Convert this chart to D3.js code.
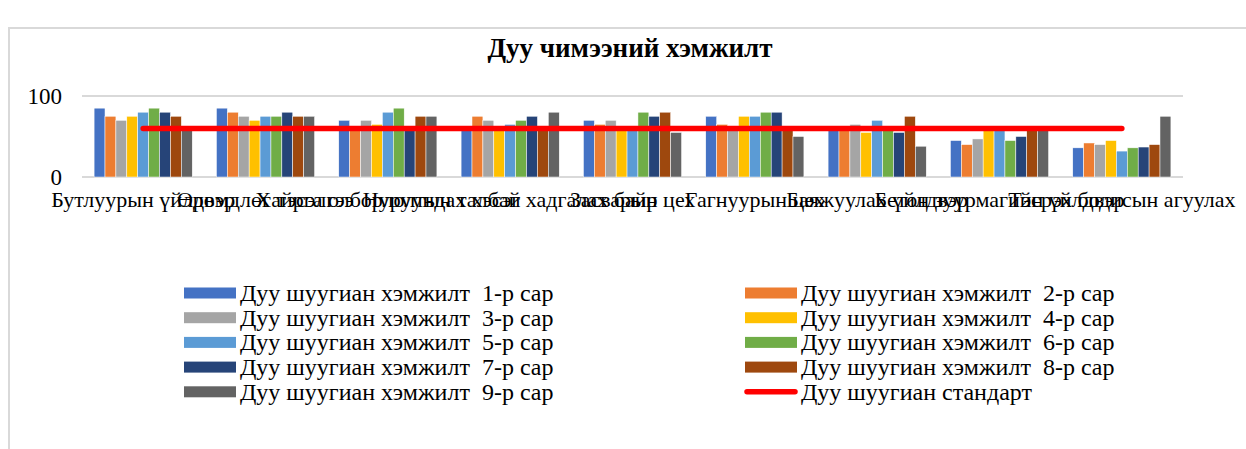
<!DOCTYPE html>
<html>
<head>
<meta charset="utf-8">
<script src="https://cdn.jsdelivr.net/npm/d3@7/dist/d3.min.js"></script>
<style>
  html, body { margin: 0; padding: 0; background: #fff; }
  svg { display: block; }
</style>
</head>
<body>
<svg id="chart" width="1246" height="449"></svg>
<script>
// Measurement sites
const categories = [
  "Бутлуурын үйлдвэр",
  "Өрөмдлөг тэсэлгээ",
  "Хайрга олборлолтын талбай",
  "Нуруундах хэсэг хадгалах байр",
  "Засварын цех",
  "Гагнуурын цех",
  "Баяжуулах үйлдвэр",
  "Бетон зуурмагийн үйлдвэр",
  "Тэсрэх бодисын агуулах"
];

// Monthly noise readings, one array per month
const month1 = [85, 85, 70, 60, 70, 75, 60, 45, 36];
const month2 = [75, 80, 60, 75, 65, 65, 60, 40, 42];
const month3 = [70, 75, 70, 70, 70, 60, 65, 47, 40];
const month4 = [75, 70, 65, 60, 60, 75, 55, 60, 45];
const month5 = [80, 75, 80, 65, 60, 75, 70, 60, 32];
const month6 = [85, 75, 85, 70, 80, 80, 60, 45, 36];
const month7 = [80, 80, 60, 75, 75, 80, 55, 50, 37];
const month8 = [75, 75, 75, 60, 80, 60, 75, 60, 40];
const month9 = [60, 75, 75, 80, 55, 50, 38, 60, 75];

// Permitted noise level
const standard = [60, 60, 60, 60, 60, 60, 60, 60, 60];

const seriesNames = [
  "Дуу шуугиан хэмжилт\u00A0 1-р сар",
  "Дуу шуугиан хэмжилт\u00A0 2-р сар",
  "Дуу шуугиан хэмжилт\u00A0 3-р сар",
  "Дуу шуугиан хэмжилт\u00A0 4-р сар",
  "Дуу шуугиан хэмжилт\u00A0 5-р сар",
  "Дуу шуугиан хэмжилт\u00A0 6-р сар",
  "Дуу шуугиан хэмжилт\u00A0 7-р сар",
  "Дуу шуугиан хэмжилт\u00A0 8-р сар",
  "Дуу шуугиан хэмжилт\u00A0 9-р сар"
];
const standardName = "Дуу шуугиан стандарт";
const yTicks = [0, 100];
const titleText = "Дуу чимээний хэмжилт";

const seriesValues = [month1, month2, month3, month4, month5, month6, month7, month8, month9];
const colors = ["#4472C4", "#ED7D31", "#A5A5A5", "#FFC000", "#5B9BD5",
                "#70AD47", "#264478", "#9E480E", "#636363"];
const lineColor = "#FF0000";
const serif = "\"Liberation Serif\", \"Times New Roman\", serif";

const svg = d3.select("#chart");

// chart frame
svg.append("rect")
  .attr("x", 9).attr("y", 28)
  .attr("width", 1260).attr("height", 440)
  .attr("fill", "#fff")
  .attr("stroke", "#d9d9d9").attr("stroke-width", 2);

// title
svg.append("text")
  .attr("x", 630).attr("y", 57)
  .attr("text-anchor", "middle")
  .style("font-family", serif)
  .style("font-size", "27px").style("font-weight", "bold")
  .attr("fill", "#000")
  .text(titleText);

const plot = { left: 82, right: 1183, top: 96, bottom: 177 };

const x0 = d3.scaleBand()
  .domain(categories)
  .range([plot.left, plot.right])
  .padding(0);

const x1 = d3.scaleBand()
  .domain(d3.range(seriesValues.length))
  .range([0, x0.bandwidth()])
  .paddingInner(0)
  .paddingOuter(1.11);

const y = d3.scaleLinear()
  .domain([0, 100])
  .range([plot.bottom, plot.top]);

// gridlines
svg.append("g")
  .selectAll("line")
  .data(yTicks)
  .join("line")
  .attr("x1", plot.left).attr("x2", plot.right)
  .attr("y1", d => y(d)).attr("y2", d => y(d))
  .attr("stroke", "#d9d9d9").attr("stroke-width", 2);

// y axis labels
const yAxis = d3.axisLeft(y).tickValues(yTicks).tickSize(0).tickPadding(0);
const yg = svg.append("g")
  .attr("transform", `translate(${plot.left - 20},0)`)
  .call(yAxis);
yg.select(".domain").remove();
yg.selectAll("text")
  .style("font-family", serif)
  .style("font-size", "23px")
  .attr("fill", "#000");

// bars
const groups = svg.append("g")
  .selectAll("g")
  .data(seriesValues)
  .join("g")
  .attr("fill", (d, i) => colors[i]);

groups.each(function (vals, si) {
  d3.select(this).selectAll("rect")
    .data(vals)
    .join("rect")
    .attr("x", (v, ci) => x0(categories[ci]) + x1(si))
    .attr("width", x1.bandwidth())
    .attr("y", v => y(v))
    .attr("height", v => y(0) - y(v))
    .attr("stroke", "#fff")
    .attr("stroke-width", 0.5);
});

// standard line
const line = d3.line()
  .x((v, i) => x0(categories[i]) + x0.bandwidth() / 2)
  .y(v => y(v));

svg.append("path")
  .datum(standard)
  .attr("d", line)
  .attr("fill", "none")
  .attr("stroke", lineColor)
  .attr("stroke-width", 5.5)
  .attr("stroke-linecap", "round");

// category labels
const xAxis = d3.axisBottom(x0).tickSize(0).tickPadding(0);
const xg = svg.append("g")
  .attr("transform", `translate(0,${plot.bottom})`)
  .call(xAxis);
xg.select(".domain").remove();
xg.selectAll("text")
  .attr("dy", null)
  .attr("y", 30)
  .style("font-family", serif)
  .style("font-size", "22px")
  .attr("fill", "#000");

// legend
const legendItems = seriesNames.map((name, i) => ({ name, color: colors[i], type: "bar" }));
legendItems.push({ name: standardName, color: lineColor, type: "line" });

const colX = [184, 745];
const rowY0 = 293, rowStep = 24.7;

const legend = svg.append("g")
  .selectAll("g")
  .data(legendItems)
  .join("g")
  .attr("transform", (d, i) =>
    `translate(${colX[i % 2]},${rowY0 + Math.floor(i / 2) * rowStep})`);

legend.filter(d => d.type === "bar")
  .append("rect")
  .attr("x", 0).attr("y", -5.5)
  .attr("width", 52).attr("height", 11)
  .attr("fill", d => d.color);

legend.filter(d => d.type === "line")
  .append("line")
  .attr("x1", 2).attr("x2", 50)
  .attr("y1", 0).attr("y2", 0)
  .attr("stroke", d => d.color)
  .attr("stroke-width", 5.5)
  .attr("stroke-linecap", "round");

legend.append("text")
  .attr("x", 56).attr("y", 8)
  .style("font-family", serif)
  .style("font-size", "24px")
  .attr("fill", "#000")
  .text(d => d.name);
</script>
</body>
</html>
